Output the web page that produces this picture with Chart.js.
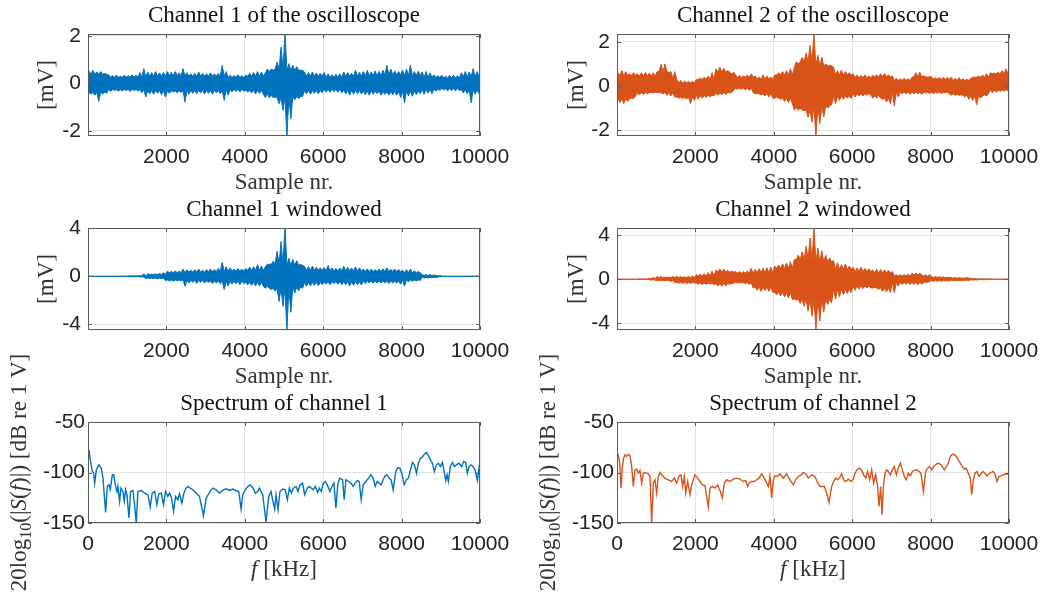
<!DOCTYPE html>
<html lang="en">
<head>
<meta charset="UTF-8">
<title>Oscilloscope channels and spectra</title>
<script src="https://cdn.jsdelivr.net/npm/chart.js"></script>
<style>
    body { margin: 0; background: #ffffff; }
    #page { position: relative; width: 1044px; height: 606px; overflow: hidden; }
    #page canvas { position: absolute; }
</style>
</head>
<body>
<div id="page">
    <canvas id="raw1" width="520" height="196" style="left:0;top:0"></canvas>
    <canvas id="raw2" width="524" height="196" style="left:520px;top:0"></canvas>
    <canvas id="win1" width="520" height="196" style="left:0;top:194px"></canvas>
    <canvas id="win2" width="524" height="196" style="left:520px;top:194px"></canvas>
    <canvas id="spec1" width="520" height="268" style="left:0;top:338px"></canvas>
    <canvas id="spec2" width="524" height="268" style="left:520px;top:338px"></canvas>
</div>

<script>
// ---- data ----
// noisy traces: spike max / min of every 100-sample block (block i = samples i*100 .. i*100+99)
const BIN = 100;
// and the dense core of the trace, per 500-sample stretch
const CORE = 500;

const ch1Hi = [0.52,0.55,0.48,0.5,0.42,0.36,0.33,0.35,0.3,0.34, 0.32,0.36,0.34,0.45,0.62,0.48,0.45,0.5,0.44,0.46,
    0.5,0.46,0.5,0.44,0.62,0.45,0.4,0.42,0.48,0.42, 0.4,0.44,0.4,0.42,0.76,0.5,0.34,0.33,0.36,0.32,
    0.34,0.42,0.46,0.5,0.48,0.44,0.5,0.55,0.9,1.53, 2.1,0.83,0.76,0.7,0.55,0.48,0.45,0.48,0.44,0.42,
    0.46,0.4,0.36,0.38,0.4,0.48,0.45,0.42,0.55,0.46, 0.5,0.55,0.48,0.52,0.5,0.55,0.76,0.6,0.52,0.5,
    0.55,0.6,0.76,0.5,0.52,0.48,0.5,0.44,0.36,0.32, 0.34,0.3,0.33,0.34,0.32,0.45,0.5,0.48,0.62,0.5];
const ch1Lo = [-0.46,-0.5,-0.76,-0.45,-0.42,-0.34,-0.3,-0.33,-0.32,-0.3, -0.34,-0.3,-0.33,-0.4,-0.58,-0.44,-0.46,-0.42,-0.48,-0.58,
    -0.42,-0.37,-0.4,-0.38,-0.79,-0.46,-0.42,-0.44,-0.4,-0.45, -0.42,-0.46,-0.4,-0.44,-0.72,-0.5,-0.36,-0.34,-0.37,-0.33,
    -0.36,-0.4,-0.44,-0.42,-0.46,-0.44,-0.52,-0.58,-0.86,-1.14, -2.3,-1.5,-0.7,-0.65,-0.55,-0.44,-0.46,-0.42,-0.44,-0.4,
    -0.37,-0.38,-0.35,-0.37,-0.4,-0.44,-0.5,-0.46,-0.44,-0.45, -0.48,-0.5,-0.46,-0.44,-0.5,-0.46,-0.5,-0.48,-0.5,-0.6,
    -0.82,-0.52,-0.55,-0.48,-0.44,-0.46,-0.42,-0.44,-0.32,-0.3, -0.28,-0.32,-0.3,-0.32,-0.3,-0.4,-0.44,-0.82,-0.46,-0.44];
const ch1CoreHi = [0.38,0.26,0.26,0.3,0.32,0.3,0.3,0.25,0.3,0.6, 0.55,0.3,0.25,0.3,0.32,0.35,0.32,0.25,0.22,0.27];
const ch1CoreLo = [-0.38,-0.26,-0.26,-0.3,-0.32,-0.3,-0.3,-0.25,-0.3,-0.6, -0.55,-0.3,-0.25,-0.3,-0.32,-0.35,-0.32,-0.25,-0.22,-0.27];

const ch2Hi = [0.6,0.7,0.65,0.55,0.6,0.55,0.6,0.62,0.58,0.6, 0.65,0.98,1.0,0.6,0.35,0.3,0.25,0.22,0.2,0.2,
    0.3,0.35,0.4,0.45,0.6,0.78,0.86,0.8,0.7,0.55, 0.5,0.48,0.45,0.5,0.55,0.45,0.4,0.5,0.45,0.4,
    0.5,0.6,0.65,0.7,0.78,0.85,1.0,1.3,1.5,1.84, 2.37,1.4,1.3,1.0,0.94,0.85,0.7,0.72,0.65,0.6,
    0.55,0.5,0.48,0.5,0.45,0.48,0.5,0.55,0.56,0.5, 0.45,0.35,0.33,0.35,0.33,0.4,0.6,0.63,0.45,0.4,
    0.42,0.38,0.4,0.4,0.38,0.4,0.35,0.38,0.33,0.3, 0.35,0.4,0.45,0.5,0.55,0.6,0.58,0.62,0.7,0.78];
const ch2Lo = [-0.75,-0.8,-0.7,-0.55,-0.45,-0.4,-0.38,-0.35,-0.3,-0.28, -0.3,-0.35,-0.42,-0.45,-0.5,-0.55,-0.58,-0.6,-0.8,-0.65,
    -0.6,-0.55,-0.52,-0.5,-0.45,-0.42,-0.4,-0.38,-0.3,-0.2, -0.15,-0.15,-0.18,-0.2,-0.3,-0.35,-0.4,-0.45,-0.5,-0.55,
    -0.5,-0.6,-0.7,-0.75,-0.8,-0.95,-1.0,-1.1,-1.4,-1.63, -2.3,-1.7,-1.4,-1.0,-0.85,-0.8,-0.65,-0.6,-0.55,-0.57,
    -0.5,-0.45,-0.45,-0.42,-0.4,-0.45,-0.42,-0.6,-0.72,-0.8, -0.9,-0.5,-0.35,-0.35,-0.38,-0.35,-0.35,-0.38,-0.32,-0.35,
    -0.35,-0.33,-0.35,-0.3,-0.35,-0.35,-0.38,-0.4,-0.5,-0.6, -0.65,-0.85,-0.55,-0.4,-0.35,-0.3,-0.28,-0.25,-0.22,-0.2];
const ch2CoreHi = [0.48,0.45,0.65,0.15,0.3,0.62,0.4,0.32,0.5,1.1, 0.9,0.5,0.38,0.42,0.25,0.42,0.3,0.25,0.4,0.55];
const ch2CoreLo = [-0.57,-0.3,-0.3,-0.5,-0.42,-0.3,-0.1,-0.35,-0.55,-1.1, -0.9,-0.45,-0.35,-0.55,-0.28,-0.28,-0.28,-0.42,-0.45,-0.18];

const win1Hi = [0.02,0.02,0.02,0.02,0.02,0.02,0.02,0.02,0.02,0.02, 0.02,0.02,0.02,0.05,0.22,0.2,0.18,0.2,0.22,0.3,
    0.42,0.4,0.45,0.42,0.6,0.55,0.5,0.55,0.6,0.5, 0.55,0.6,0.55,0.65,1.17,0.8,0.7,0.6,0.65,0.6,
    0.65,0.75,0.8,0.97,0.85,0.8,1.0,1.25,2.1,2.9, 4.1,1.5,1.4,1.3,1.0,0.83,0.8,0.85,0.75,0.7,
    0.72,0.9,0.7,0.65,0.7,0.83,0.75,0.7,0.78,0.7, 0.6,0.62,0.6,0.55,0.6,0.62,0.7,0.58,0.6,0.55,
    0.5,0.55,0.6,0.45,0.4,0.15,0.14,0.12,0.1,0.02, 0.02,0.02,0.02,0.02,0.02,0.02,0.02,0.02,0.02,0.02];
const win1Lo = [-0.02,-0.02,-0.02,-0.02,-0.02,-0.02,-0.02,-0.02,-0.02,-0.02, -0.02,-0.02,-0.02,-0.05,-0.2,-0.18,-0.2,-0.22,-0.2,-0.35,
    -0.4,-0.42,-0.38,-0.4,-0.83,-0.55,-0.5,-0.6,-0.5,-0.55, -0.5,-0.6,-0.55,-0.62,-1.1,-0.8,-0.65,-0.62,-0.7,-0.6,
    -0.7,-0.75,-0.8,-0.8,-0.85,-0.83,-1.1,-1.25,-2.1,-2.5, -4.6,-3.0,-1.4,-1.2,-1.0,-0.83,-0.8,-0.75,-0.78,-0.7,
    -0.65,-0.7,-0.6,-0.65,-0.7,-0.7,-0.8,-0.75,-0.7,-0.72, -0.6,-0.55,-0.58,-0.55,-0.55,-0.55,-0.6,-0.55,-0.58,-0.65,
    -0.83,-0.45,-0.42,-0.4,-0.35,-0.15,-0.14,-0.12,-0.1,-0.02, -0.02,-0.02,-0.02,-0.02,-0.02,-0.02,-0.02,-0.02,-0.02,-0.02];
const win1CoreHi = [0.01,0.01,0.05,0.15,0.3,0.35,0.4,0.42,0.5,1.0, 0.9,0.5,0.45,0.45,0.4,0.4,0.3,0.08,0.01,0.01];
const win1CoreLo = [-0.01,-0.01,-0.05,-0.15,-0.3,-0.35,-0.4,-0.42,-0.5,-1.0, -0.9,-0.5,-0.45,-0.45,-0.4,-0.4,-0.3,-0.08,-0.01,-0.01];

const win2Hi = [0.02,0.02,0.02,0.02,0.02,0.02,0.02,0.02,0.1,0.2, 0.27,0.25,0.2,0.2,0.25,0.27,0.25,0.22,0.25,0.3,
    0.42,0.45,0.5,0.6,0.75,0.85,0.94,0.9,0.8,0.75, 0.7,0.73,0.7,0.75,1.0,0.9,0.95,1.0,1.05,1.1,
    1.2,1.3,1.4,1.48,1.6,1.8,2.2,2.5,3.0,3.75, 4.67,2.85,2.6,2.2,1.94,1.7,1.5,1.33,1.4,1.2,
    1.1,1.03,1.1,1.0,0.95,0.85,0.9,0.88,0.85,0.8, 0.7,0.42,0.4,0.42,0.45,0.55,0.58,0.55,0.3,0.27,
    0.25,0.27,0.25,0.22,0.2,0.18,0.15,0.15,0.12,0.15, 0.1,0.08,0.03,0.03,0.03,0.03,0.03,0.03,0.03,0.03];
const win2Lo = [-0.02,-0.02,-0.02,-0.02,-0.02,-0.02,-0.02,-0.02,-0.08,-0.1, -0.12,-0.12,-0.1,-0.2,-0.3,-0.35,-0.38,-0.4,-0.4,-0.35,
    -0.45,-0.48,-0.45,-0.42,-0.5,-0.6,-0.64,-0.6,-0.45,-0.35, -0.33,-0.35,-0.4,-0.5,-0.8,-1.0,-1.1,-1.05,-1.1,-1.2,
    -1.4,-1.5,-1.6,-1.7,-1.85,-1.9,-2.2,-2.45,-2.9,-3.36, -4.6,-3.8,-3.0,-2.3,-2.15,-1.8,-1.6,-1.4,-1.3,-1.2,
    -1.0,-0.9,-0.85,-0.8,-0.8,-0.75,-0.9,-1.1,-1.15,-1.2, -1.24,-0.6,-0.48,-0.45,-0.48,-0.48,-0.5,-0.45,-0.25,-0.2,
    -0.18,-0.18,-0.18,-0.15,-0.15,-0.12,-0.12,-0.12,-0.1,-0.12, -0.08,-0.06,-0.03,-0.03,-0.03,-0.03,-0.03,-0.03,-0.03,-0.03];
const win2CoreHi = [0.01,0.05,0.15,0.15,0.3,0.65,0.55,0.6,1.0,1.8, 1.6,0.9,0.7,0.6,0.3,0.4,0.15,0.1,0.05,0.01];
const win2CoreLo = [-0.01,-0.03,-0.1,-0.28,-0.35,-0.4,-0.3,-0.7,-1.2,-1.8, -1.8,-0.9,-0.6,-0.8,-0.3,-0.3,-0.12,-0.08,-0.04,-0.01];

// spectra: frequency [kHz] and level [dB re 1 V]
const spec1Freq = [0,25,59,110,144,170,212,280,340,382,450,492,535,569,620,654,705,739,764,806,840,891,925,959,993,
    1044,1087,1146,1188,1231,1273,1358,1443,1528,1587,1638,1698,1757,1808,1868,1927,1978,2037,2080,2131,2182,2233,
    2292,2334,2394,2436,2487,2547,2606,2674,2759,2844,2946,3014,3115,3183,3268,3353,3396,3455,3523,3608,3693,3761,
    3846,3905,3947,4015,4075,4134,4202,4270,4329,4372,4457,4542,4610,4669,4711,4762,4796,4847,4898,4966,5034,5085,
    5136,5187,5238,5306,5357,5407,5475,5526,5594,5645,5696,5747,5798,5857,5900,5951,6002,6053,6104,6171,6222,6273,
    6324,6375,6426,6494,6536,6579,6647,6706,6766,6817,6876,6918,6969,7020,7088,7156,7216,7275,7326,7377,7428,7479,
    7530,7580,7631,7682,7733,7784,7852,7903,7954,8005,8065,8124,8175,8226,8277,8328,8379,8429,8480,8531,8582,8633,
    8684,8735,8786,8837,8888,8939,8990,9041,9092,9126,9160,9193,9244,9295,9346,9397,9465,9533,9584,9635,9677,9720,
    9771,9822,9873,9932,9975,10000];
const spec1Db = [-77.6,-78.3,-87.5,-99,-100.7,-110.5,-97.4,-92.4,-95.7,-105.6,-139.5,-113.8,-112.2,-117.1,-102.3,-102.3,
    -113.8,-118.8,-113.8,-128.6,-115.5,-118.8,-128.6,-117.1,-122,-145.1,-118.8,-117.8,-131.9,-150,-118.8,-117.8,-120.4,
    -122,-134.2,-120.4,-118.8,-131.9,-121.1,-120.4,-131.9,-118.8,-123.7,-120.4,-125.3,-138.5,-123.7,-127,-121.1,-130.3,
    -122,-116.4,-113.8,-115.5,-117.1,-120.4,-123.7,-142.8,-125.3,-118.8,-115.5,-117.1,-120.4,-118.8,-117.1,-116.1,
    -117.8,-116.4,-117.8,-118.8,-136.2,-122,-117.1,-113.8,-112.2,-114.8,-120.4,-118.8,-115.5,-122,-149.3,-123.7,-118.8,
    -127,-136.2,-122,-136.8,-118.8,-116.4,-117.1,-127,-115.5,-120.4,-115.5,-113.8,-118.8,-112.2,-110.5,-122,-115.5,
    -113.8,-115.5,-117.1,-113.8,-119.7,-115.5,-118.8,-110.5,-108.9,-112.2,-118.8,-113.8,-110.5,-135.2,-110.5,-105.6,
    -107.2,-127,-107.2,-108.9,-110.5,-113.8,-110.5,-107.9,-108.9,-127,-112.2,-108.9,-105.6,-102.3,-105.6,-113.8,-108.9,
    -110.5,-112.2,-107.2,-103.3,-102.3,-105.6,-107.2,-117.1,-99,-95.1,-95.7,-100.7,-112.2,-107.2,-105.6,-97.4,-90.1,
    -92.4,-100.7,-90.8,-85.9,-84.9,-81.6,-80.3,-83.6,-87.5,-90.8,-99,-92.4,-90.8,-94.1,-90.1,-100.7,-107.9,-102.3,
    -108.9,-94.1,-90.1,-94.1,-92.4,-90.8,-94.1,-89.1,-90.1,-100.7,-94.1,-92.4,-94.1,-97.4,-107.9,-95.7,-89.1];

const spec2Freq = [0,34,68,102,136,170,204,247,289,332,374,417,459,502,544,587,629,672,714,799,842,884,927,969,1012,
    1054,1097,1139,1224,1309,1394,1463,1522,1582,1633,1675,1718,1752,1803,1862,1905,1990,2058,2117,2177,2245,2330,
    2372,2432,2500,2568,2636,2687,2738,2797,2883,2968,3053,3138,3223,3282,3333,3367,3435,3503,3563,3622,3690,3758,
    3818,3860,3903,3945,3988,4030,4090,4158,4243,4328,4388,4439,4498,4558,4626,4694,4753,4813,4881,4966,5051,5102,
    5178,5289,5348,5408,5476,5527,5578,5629,5689,5731,5782,5833,5901,5969,6029,6071,6122,6182,6241,6292,6343,6394,
    6445,6496,6547,6598,6649,6683,6726,6760,6794,6836,6879,6921,6972,7024,7075,7126,7176,7228,7279,7330,7381,7432,
    7483,7534,7585,7645,7704,7755,7815,7874,7925,7976,8027,8078,8129,8180,8240,8299,8350,8401,8452,8503,8554,8605,
    8656,8707,8758,8809,8860,8911,8962,9013,9047,9090,9132,9183,9234,9285,9336,9387,9438,9490,9541,9592,9643,9694,
    9745,9796,9847,9898,9949,10000];
const spec2Db = [-80.9,-82.6,-90.8,-115.5,-94.1,-85.9,-82.6,-84.2,-81.9,-83.6,-94.1,-113.8,-97.4,-96.7,-100.7,-98,
    -110.5,-100.7,-100,-101.3,-103.9,-150,-110.5,-107.2,-120.4,-103.9,-100,-102.3,-105.6,-107.2,-108.9,-105.6,-110.5,
    -103.3,-102.3,-113.8,-103.9,-120.4,-108.9,-122,-112.2,-102.3,-105.6,-108.9,-112.2,-113.2,-134.2,-115.5,-113.8,
    -115.5,-112.2,-118.8,-125.3,-110.5,-107.2,-108.9,-106.6,-105.6,-106.6,-108.9,-107.9,-113.8,-110.5,-108.9,-108.9,
    -107.2,-105.6,-101.3,-105.6,-110.5,-113.8,-103.9,-125.3,-107.2,-103.3,-103.9,-101.3,-105.6,-101.3,-105.6,-108.9,
    -112.2,-107.2,-103.9,-102.3,-100,-101.3,-105.6,-102.3,-103.9,-108.9,-113.8,-113.8,-120.4,-129.6,-113.8,-108.9,
    -105.6,-107.2,-104.6,-101.3,-107.2,-108.9,-106.6,-108.9,-106.6,-100.7,-97.4,-95.7,-97.4,-102.3,-105.6,-99,-107.2,
    -97.4,-110.5,-102.3,-113.8,-133.6,-113.8,-141.8,-113.8,-100.7,-97.4,-99,-102.3,-97.4,-94.1,-102.3,-95.7,-90.8,
    -97.4,-103.9,-107.2,-100.7,-103.3,-99,-98,-97.4,-99,-100.7,-118.8,-99,-95.7,-94.1,-97.4,-94.1,-92.4,-90.8,-91.4,
    -94.1,-97.4,-94.1,-90.8,-84.2,-81.9,-82.2,-84.2,-87.5,-90.8,-94.1,-96.7,-95.7,-100.7,-105.6,-122,-107.2,-100.7,
    -99,-103.9,-101.3,-99,-100.7,-103.3,-101.3,-100,-99,-101.3,-108.9,-103.9,-103.3,-102.3,-101.6,-101.3,-102.3];

// tick labels
const sampleTicks = [2000, 4000, 6000, 8000, 10000];
const freqTicks = [0, 2000, 4000, 6000, 8000, 10000];
const rawTicks = [-2, 0, 2];
const winTicks = [-4, -2, 0, 2, 4];
const dbTicks = [-150, -100, -50];

// ---- styling ----
const BLUE = '#0072BD';
const ORANGE = '#D95319';
const SERIF = '"Liberation Serif", "Times New Roman", serif';
const SANS = '"Liberation Sans", Arial, sans-serif';
const AXIS_COLOR = '#595959';

Chart.defaults.font.family = SANS;

// MATLAB style closed box with small inward tick marks
const boxPlugin = {
    id: 'matlabBox',
    afterDatasetsDraw(chart) {
        const { ctx, chartArea: a, scales: { x, y } } = chart;
        ctx.save();
        ctx.strokeStyle = AXIS_COLOR;
        ctx.lineWidth = 1;
        ctx.beginPath();
        x.ticks.forEach(t => {
            const px = Math.round(x.getPixelForValue(t.value)) + 0.5;
            ctx.moveTo(px, a.bottom); ctx.lineTo(px, a.bottom - 4);
            ctx.moveTo(px, a.top); ctx.lineTo(px, a.top + 4);
        });
        y.ticks.forEach(t => {
            const py = Math.round(y.getPixelForValue(t.value)) + 0.5;
            ctx.moveTo(a.left, py); ctx.lineTo(a.left + 4, py);
            ctx.moveTo(a.right, py); ctx.lineTo(a.right - 4, py);
        });
        ctx.stroke();
        ctx.strokeRect(a.left + 0.5, a.top + 0.5, a.right - a.left - 1, a.bottom - a.top - 1);
        ctx.restore();
    }
};

// titles and axis labels (serif, some with italic letters and a subscript), centred on the plot box
function textPlugin(labels) {
    return {
        id: 'serifText',
        afterDraw(chart) {
            const { ctx, chartArea: a } = chart;
            labels.forEach(lab => {
                const size = lab.size;
                const fontOf = p => (p.it ? 'italic ' : '') + (p.sub ? size * 0.7 : size) + 'px ' + SERIF;
                let total = 0;
                ctx.save();
                lab.parts.forEach(p => { ctx.font = fontOf(p); p.w = ctx.measureText(p.t).width; total += p.w; });
                if (lab.side === 'left') {
                    ctx.translate(a.left - lab.gap, (a.top + a.bottom) / 2);
                    ctx.rotate(-Math.PI / 2);
                } else if (lab.side === 'top') {
                    ctx.translate((a.left + a.right) / 2, a.top - lab.gap);
                } else {
                    ctx.translate((a.left + a.right) / 2, a.bottom + lab.gap);
                }
                ctx.fillStyle = lab.color;
                ctx.textBaseline = 'alphabetic';
                let cx = -total / 2;
                lab.parts.forEach(p => {
                    ctx.font = fontOf(p);
                    ctx.fillText(p.t, cx, size * 0.33 + (p.sub ? size * 0.22 : 0));
                    cx += p.w;
                });
                ctx.restore();
            });
        }
    };
}

// a filled band: the outline alternates between each block's spike and the dense core level
function envelopeSets(hi, lo, coreHi, coreLo, color) {
    const top = [], bottom = [];
    hi.forEach((v, i) => {
        const c = Math.floor(i * BIN / CORE);
        top.push({ x: i * BIN + BIN / 4, y: v }, { x: i * BIN + 3 * BIN / 4, y: coreHi[c] });
        bottom.push({ x: i * BIN + BIN / 4, y: coreLo[c] }, { x: i * BIN + 3 * BIN / 4, y: lo[i] });
    });
    return [
        { data: top, borderColor: color, backgroundColor: color, borderWidth: 1, pointRadius: 0, fill: '+1', clip: 0 },
        { data: bottom, borderColor: color, borderWidth: 1, pointRadius: 0, fill: false, clip: 0 }
    ];
}

function lineSets(xs, ys, color) {
    return [{ data: xs.map((v, i) => ({ x: v, y: ys[i] })), borderColor: color, borderWidth: 1.4,
        pointRadius: 0, fill: false, clip: 0 }];
}

function makePanel(id, cfg) {
    const fixedTicks = vals => scale => { scale.ticks = vals.map(v => ({ value: v })); };
    const labels = [{ side: 'top', gap: 20, size: 23, color: '#111111', parts: [{ t: cfg.title }] }]
        .concat(cfg.labels);

    return new Chart(document.getElementById(id), {
        type: 'line',
        data: { datasets: cfg.datasets },
        options: {
            responsive: false,
            animation: false,
            events: [],
            layout: { padding: { left: 0, right: cfg.padRight, top: cfg.padTop, bottom: cfg.padBottom } },
            plugins: { legend: { display: false }, tooltip: { enabled: false }, title: { display: false } },
            scales: {
                x: {
                    type: 'linear', min: cfg.xMin, max: 10000,
                    afterBuildTicks: fixedTicks(cfg.xTicks),
                    afterFit: s => { s.height = 60; s.paddingLeft = 0; s.paddingRight = 0; },
                    grid: { color: '#e3e3e3', drawTicks: false },
                    border: { display: false },
                    ticks: { color: '#222222', font: { size: 21 }, padding: 9, maxRotation: 0,
                             callback: v => String(v) }
                },
                y: {
                    type: 'linear', min: cfg.yMin, max: cfg.yMax,
                    afterBuildTicks: fixedTicks(cfg.yTicks),
                    afterFit: s => { s.width = cfg.yAxisWidth; s.paddingTop = 0; s.paddingBottom = 0; },
                    grid: { color: '#e3e3e3', drawTicks: false },
                    border: { display: false },
                    ticks: { color: '#222222', font: { size: 21 }, padding: cfg.yTickPad,
                             callback: v => String(v) }
                }
            }
        },
        plugins: [boxPlugin, textPlugin(labels)]
    });
}

const LEFT = { yAxisWidth: 88, padRight: 40, yLabelGap: 43 };
const RIGHT = { yAxisWidth: 97, padRight: 35, yLabelGap: 42 };
const LABEL_COLOR = '#333333';

function timeLabels(side) {
    return [
        { side: 'bottom', gap: 45, size: 23, color: LABEL_COLOR, parts: [{ t: 'Sample nr.' }] },
        { side: 'left', gap: side.yLabelGap, size: 23, color: LABEL_COLOR, parts: [{ t: '[mV]' }] }
    ];
}
const specLabels = [
    { side: 'left', gap: 70, size: 23, color: LABEL_COLOR,
      parts: [{ t: '20log' }, { t: '10', sub: true }, { t: '(|' }, { t: 'S', it: true }, { t: '(' },
              { t: 'f', it: true }, { t: ')|) [dB re 1 V]' }] },
    { side: 'bottom', gap: 45, size: 23, color: LABEL_COLOR, parts: [{ t: 'f', it: true }, { t: ' [kHz]' }] }
];

const timeRow = { xMin: 1, xTicks: sampleTicks, yTickPad: 7, padTop: 34, padBottom: 0 };
const specRow = { xMin: 0, xTicks: freqTicks, yTickPad: 3, yMin: -150, yMax: -50, yTicks: dbTicks,
    padTop: 84, padBottom: 23, labels: specLabels };

makePanel('raw1', Object.assign({}, timeRow, LEFT, {
    title: 'Channel 1 of the oscilloscope', yMin: -2.22, yMax: 2.08, yTicks: rawTicks,
    labels: timeLabels(LEFT), datasets: envelopeSets(ch1Hi, ch1Lo, ch1CoreHi, ch1CoreLo, BLUE) }));
makePanel('raw2', Object.assign({}, timeRow, RIGHT, {
    title: 'Channel 2 of the oscilloscope', yMin: -2.26, yMax: 2.35, yTicks: rawTicks,
    labels: timeLabels(RIGHT), datasets: envelopeSets(ch2Hi, ch2Lo, ch2CoreHi, ch2CoreLo, ORANGE) }));
makePanel('win1', Object.assign({}, timeRow, LEFT, {
    title: 'Channel 1 windowed', yMin: -4.47, yMax: 4.02, yTicks: winTicks,
    labels: timeLabels(LEFT), datasets: envelopeSets(win1Hi, win1Lo, win1CoreHi, win1CoreLo, BLUE) }));
makePanel('win2', Object.assign({}, timeRow, RIGHT, {
    title: 'Channel 2 windowed', yMin: -4.61, yMax: 4.66, yTicks: winTicks,
    labels: timeLabels(RIGHT), datasets: envelopeSets(win2Hi, win2Lo, win2CoreHi, win2CoreLo, ORANGE) }));
makePanel('spec1', Object.assign({}, specRow, LEFT, {
    title: 'Spectrum of channel 1', datasets: lineSets(spec1Freq, spec1Db, BLUE) }));
makePanel('spec2', Object.assign({}, specRow, RIGHT, {
    title: 'Spectrum of channel 2', datasets: lineSets(spec2Freq, spec2Db, ORANGE) }));
</script>
</body>
</html>
